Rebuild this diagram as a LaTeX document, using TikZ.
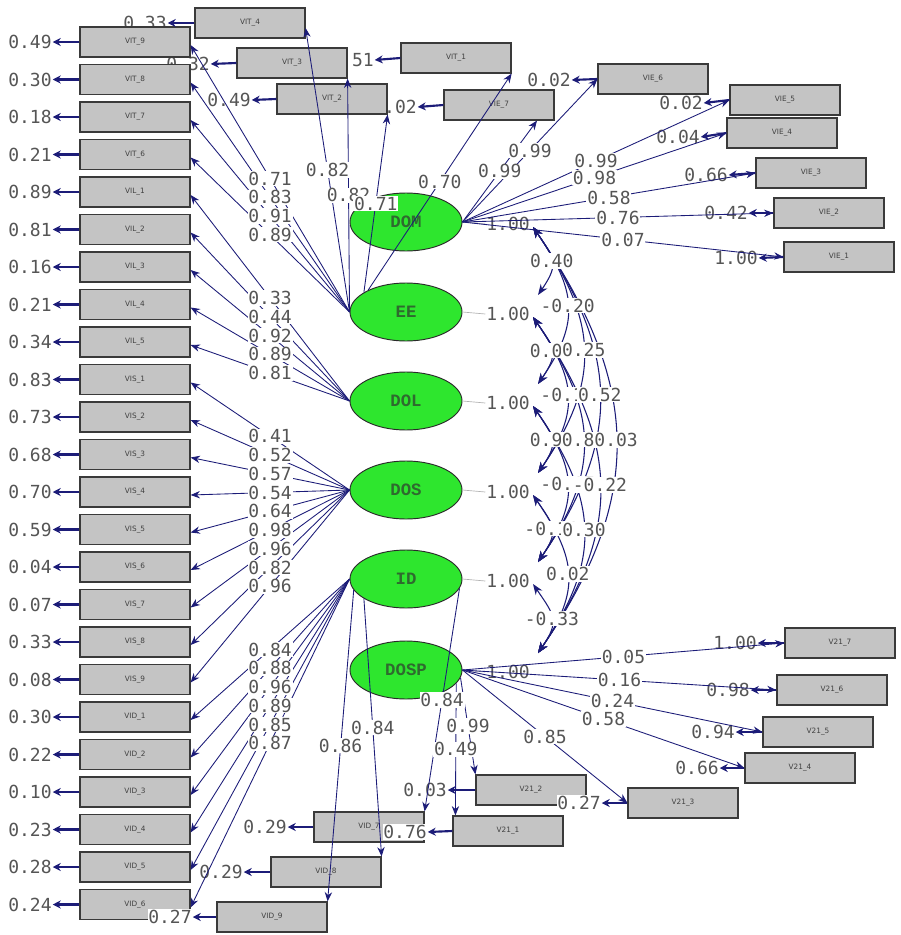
\documentclass[tikz,border=0pt]{standalone}
\usepackage{fontspec}
\newfontfamily\numfont{DejaVu Sans Mono}
\newfontfamily\latfont{Liberation Mono}
\newfontfamily\boxfont{DejaVu Sans}
\usetikzlibrary{shapes.geometric,arrows.meta,calc}
\definecolor{pathblue}{HTML}{1C1C78}
\definecolor{numgray}{HTML}{555555}
\definecolor{boxfill}{HTML}{C4C4C4}
\definecolor{boxline}{HTML}{3A3A3A}
\definecolor{boxtext}{HTML}{404040}
\definecolor{latgreen}{HTML}{2EE62E}
\definecolor{latline}{HTML}{2A2A2A}
\definecolor{lattext}{HTML}{2F6A2F}
\tikzset{
 obs/.style={draw=boxline, fill=boxfill, line width=0.9pt, minimum width=82.5pt, minimum height=22.5pt, inner sep=0pt, font=\boxfont\fontsize{5.5}{6}\selectfont, text=boxtext},
 lat/.style={ellipse, draw=latline, fill=latgreen, line width=0.7pt, minimum width=84pt, minimum height=43.5pt, inner sep=0pt, font=\latfont\bfseries\fontsize{13}{14}\selectfont, text=lattext},
 num/.style={font=\numfont\fontsize{13.5}{15}\selectfont, text=numgray, inner sep=0.6pt},
 numw/.style={num, fill=white},
 load/.style={draw=pathblue, line width=0.65pt, -{Stealth[length=7pt,width=5.5pt]}},
 err/.style={draw=pathblue, line width=1.6pt, -{Stealth[length=6pt,width=6pt]}},
 cov/.style={draw=pathblue, line width=0.8pt, {Stealth[length=8pt,width=6pt]}-{Stealth[length=8pt,width=6pt]}},
 varl/.style={draw=gray!60, line width=0.5pt}
}
\begin{document}
\begin{tikzpicture}[x=0.75pt,y=-0.75pt]
\path[use as bounding box, fill=white] (0,0) rectangle (900,935);

% error labels lying behind boxes
\node[num] (et4) at (145,23) {0.33};
\node[num] (et3) at (188,64) {0.32};
\node[num] (et2) at (229,100) {0.49};
\node[num] (et1) at (352,60) {0.51};
\node[num] (ee7) at (395,107) {0.02};

% left column boxes
\foreach \lab/\er [count=\i] in {VIT\_9/0.49,VIT\_8/0.30,VIT\_7/0.18,VIT\_6/0.21,VIL\_1/0.89,VIL\_2/0.81,VIL\_3/0.16,VIL\_4/0.21,VIL\_5/0.34,VIS\_1/0.83,VIS\_2/0.73,VIS\_3/0.68,VIS\_4/0.70,VIS\_5/0.59,VIS\_6/0.04,VIS\_7/0.07,VIS\_8/0.33,VIS\_9/0.08,VID\_1/0.30,VID\_2/0.22,VID\_3/0.10,VID\_4/0.23,VID\_5/0.28,VID\_6/0.24}{
  \pgfmathsetmacro\yy{42+37.5*(\i-1)}
  \node[obs] (b\i) at (135,\yy) {\lab};
  \node[numw] (eb\i) at (30,\yy) {\er};
  \draw[err] (b\i.west) -- (eb\i.east);
}

% other boxes
\node[obs] (t4) at (250,23) {VIT\_4};
\node[obs] (t3) at (292,63) {VIT\_3};
\node[obs] (t2) at (332,99) {VIT\_2};
\node[obs] (t1) at (456,58) {VIT\_1};
\node[obs] (e7) at (499,105) {VIE\_7};
\node[obs] (e6) at (653,79) {VIE\_6};
\node[obs] (e5) at (785,100) {VIE\_5};
\node[obs] (e4) at (782,133) {VIE\_4};
\node[obs] (e3) at (811,173) {VIE\_3};
\node[obs] (e2) at (829,213) {VIE\_2};
\node[obs] (e1) at (839,257) {VIE\_1};
\node[obs] (s7) at (840,643) {V21\_7};
\node[obs] (s6) at (832,690) {V21\_6};
\node[obs] (s5) at (818,732) {V21\_5};
\node[obs] (s4) at (800,768) {V21\_4};
\node[obs] (s3) at (683,803) {V21\_3};
\node[obs] (s2) at (531,790) {V21\_2};
\node[obs] (s1) at (508,831) {V21\_1};
\node[obs] (d7) at (369,827) {VID\_7};
\node[obs] (d8) at (326,872) {VID\_8};
\node[obs] (d9) at (272,917) {VID\_9};

\draw[err] (t4.west) -- (et4.east);
\draw[err] (t3.west) -- (et3.east);
\draw[err] (t2.west) -- (et2.east);
\draw[err] (t1.west) -- (et1.east);
\draw[err] (e7.west) -- (ee7.east);

% error labels in front
\node[numw] (ee6) at (549,80) {0.02};
\node[numw] (ee5) at (681,103) {0.02};
\node[numw] (ee4) at (678,137) {0.04};
\node[numw] (ee3) at (706,175) {0.66};
\node[numw] (ee2) at (726,213) {0.42};
\node[numw] (ee1) at (736,258) {1.00};
\node[numw] (es7) at (735,643) {1.00};
\node[numw] (es6) at (728,690) {0.98};
\node[numw] (es5) at (713,732) {0.94};
\node[numw] (es4) at (697,768) {0.66};
\node[numw] (es3) at (579,803) {0.27};
\node[numw] (es2) at (425,790) {0.03};
\node[numw] (es1) at (405,832) {0.76};
\node[numw] (ed7) at (265,827) {0.29};
\node[numw] (ed8) at (221,872) {0.29};
\node[numw] (ed9) at (170,917) {0.27};
\foreach \b in {e6,e5,e4,e3,e2,e1,s7,s6,s5,s4,s3,s2,s1,d7,d8,d9}{
  \draw[err] (\b.west) -- (e\b.east);
}

% latent variables
\node[lat] (DOM) at (406,222) {DOM};
\node[lat] (EE) at (406,312) {EE};
\node[lat] (DOL) at (406,401) {DOL};
\node[lat] (DOS) at (406,490) {DOS};
\node[lat] (ID) at (406,579) {ID};
\node[lat] (DOSP) at (406,670) {DOSP};

% variances
\foreach \n/\y in {DOM/222,EE/312,DOL/401,DOS/490,ID/579,DOSP/670}{
  \node[num] (v\n) at (508,\y+2) {1.00};
  \draw[varl] (\n.east) -- (v\n.west);
}

% loadings, left column
\foreach \f [count=\i] in {EE,EE,EE,EE,DOL,DOL,DOL,DOL,DOL,DOS,DOS,DOS,DOS,DOS,DOS,DOS,DOS,DOS,ID,ID,ID,ID,ID,ID}{
  \draw[load] (\f.west) -- coordinate (m\i) ($(b\i.east)+(0,3)$);
}
% loadings, others
\draw[load] (EE.west) -- coordinate (mt4) ($(t4.east)+(0,5)$);
\draw[load] (EE.west) -- coordinate (mt3) (t3.south east);
\draw[load] (EE.155) -- coordinate (mt2) (t2.south east);
\draw[load] (EE.150) -- coordinate (mt1) (t1.south east);
\draw[load] (DOM.east) -- coordinate (me7) ($(e7.south)+(38,0)$);
\foreach \b in {e6,e5,e4,e3,e2,e1}{
  \draw[load] (DOM.east) -- coordinate (m\b) (\b.west);
}
\foreach \b in {s7,s6,s5,s4,s3}{
  \draw[load] (DOSP.east) -- coordinate (m\b) (\b.west);
}
\draw[load] (DOSP.-8) -- coordinate (ms2) (s2.north west);
\draw[load] (DOSP.-15) -- coordinate (ms1) ($(s1.north west)+(3,0)$);
\draw[load] (ID.192) -- coordinate (md9) (d9.north east);
\draw[load] (ID.205) -- coordinate (md8) (d8.north east);
\draw[load] (ID.-10) -- coordinate (md7) (d7.north east);

% loading labels
\foreach \v [count=\i] in {0.71,0.83,0.91,0.89,0.33,0.44,0.92,0.89,0.81,0.41,0.52,0.57,0.54,0.64,0.98,0.96,0.82,0.96,0.84,0.88,0.96,0.89,0.85,0.87}{
  \node[numw] (lm\i) at (m\i) {\v};
}
\foreach \c/\v in {mt4/0.82,mt3/0.82,mt2/0.71,mt1/0.70,me7/0.99,me6/0.99,me5/0.99,me4/0.98,me3/0.58,me2/0.76,me1/0.07,ms7/0.05,ms6/0.16,ms5/0.24,ms4/0.58,ms3/0.85,ms2/0.99,ms1/0.49,md9/0.86,md8/0.84,md7/0.84}{
  \node[numw] (l\c) at (\c) {\v};
}

% covariances
\foreach \n/\y in {DOM/222,EE/312,DOL/401,DOS/490,ID/579,DOSP/670}{
  \coordinate (ca\n) at (533,\y+5);
  \coordinate (cb\n) at (538,\y-17);
}
\foreach \a/\b/\d [count=\k] in {DOM/EE/90,EE/DOL/89,DOL/DOS/89,DOS/ID/89,ID/DOSP/91,DOM/DOL/179,EE/DOS/178,DOL/ID/178,DOS/DOSP/180,DOM/DOS/268,EE/ID/267,DOL/DOSP/269,DOM/ID/357,EE/DOSP/358,DOM/DOSP/448}{
  \draw[cov] (ca\a) .. controls ($(ca\a)+(0.24*\d,0.35*\d)$) and ($(cb\b)+(0.24*\d,-0.35*\d)$) .. coordinate[pos=0.5] (cm\k) (cb\b);
}
\foreach \v [count=\k] in {0.40,0.06,0.90,-0.11,-0.33,-0.20,-0.13,-0.17,0.02,0.25,0.80,0.30,0.52,-0.22,0.03}{
  \node[numw] (cl\k) at (cm\k) {\v};
}
\end{tikzpicture}
\end{document}
